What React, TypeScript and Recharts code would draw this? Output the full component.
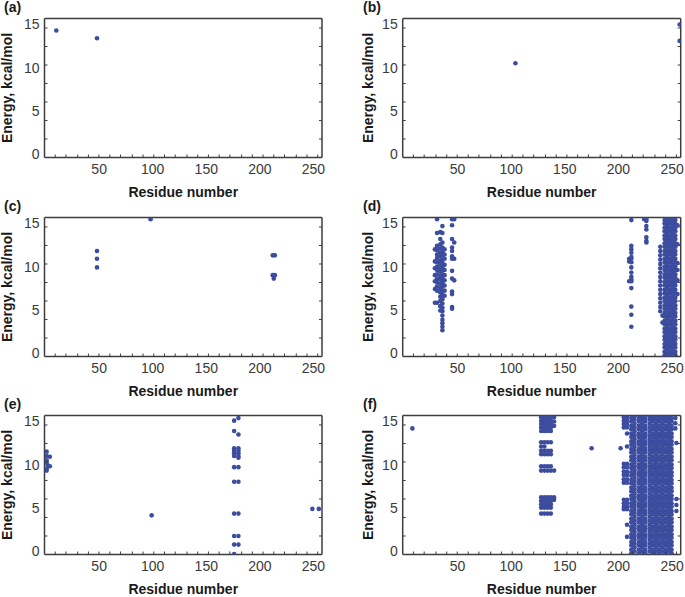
import { Scatter, ScatterChart, XAxis, YAxis } from 'recharts'

const X_DOMAIN: [number, number] = [-1, 258]
const Y_DOMAIN: [number, number] = [-0.45, 15.7]
const xLabelTicks = [50, 100, 150, 200, 250]
const yLabelTicks = [0, 5, 10, 15]
const xMinorTicks = [9, 19, 30, 40, 49.8, 60, 70, 81, 91, 101, 111, 121, 132, 142, 152, 162, 172, 183, 193, 203, 213, 223, 234, 244, 254]
const yMinorTicks = [1.7, 3.85, 6.0, 8.15, 10.3, 12.45, 14.6]

const DOT = '#3c4c9e'
const FRAME = '#3d3d3d'
const TICK_TEXT = '#3a3a3a'

// (a)
const aResidues = [10, 48]
const aEnergies = [14.3, 13.4]

// (b)
const bResidues = [104, 257, 257]
const bEnergies = [10.5, 15.0, 13.1]

// (c)
const cResidues = [48, 48, 48, 98, 212, 214, 212, 214, 213]
const cEnergies = [11.8, 10.9, 9.9, 15.5, 11.3, 11.3, 9.0, 9.0, 8.6]

// (e)
const eResidues = [1, 1, 4, 1, 1, 2, 4, 1, 1, 99, 176, 176, 176, 176, 176, 176, 176, 176, 176, 176, 176, 176, 180, 180, 180, 180, 180, 180, 180, 180, 180, 180, 180, 180, 249, 255]
const eEnergies = [11.5, 11.0, 10.9, 10.5, 10.2, 9.9, 9.8, 9.5, 9.3, 4.1, 15.1, 13.9, 11.9, 11.6, 11.3, 11.0, 9.7, 8.0, 4.3, 1.7, 0.7, -0.4, 15.4, 13.5, 11.9, 11.6, 11.3, 11.0, 10.8, 9.7, 8.0, 4.3, 1.7, 0.7, 4.85, 4.85]

// energies of the solid, fully packed residue columns in (d) and (f);
// neighbouring columns alternate between the two sets
const solidEnergiesA = [-0.3, 0.1, 0.6, 1.0, 1.5, 1.9, 2.4, 2.8, 3.3, 3.7, 4.2, 4.6, 5.1, 5.5, 6.0, 6.4, 6.9, 7.3, 7.8, 8.2, 8.7, 9.1, 9.6, 10.0, 10.5, 10.9, 11.4, 11.8, 12.3, 12.7, 13.2, 13.6, 14.1, 14.5, 15.0, 15.4]
const solidEnergiesB = [-0.1, 0.35, 0.8, 1.25, 1.7, 2.15, 2.6, 3.05, 3.5, 3.95, 4.4, 4.85, 5.3, 5.75, 6.2, 6.65, 7.1, 7.55, 8.0, 8.45, 8.9, 9.35, 9.8, 10.25, 10.7, 11.15, 11.6, 12.05, 12.5, 12.95, 13.4, 13.85, 14.3, 14.75, 15.2, 15.6]

// (d)
const dResidues = [29, 31, 34, 36, 38, 45, 47, 210, 212, 224, 226, 239, 241, 255]
const dEnergies = [
  [12.0, 10.6, 9.8, 9.0, 8.3, 7.4, 5.8],
  [15.5, 13.9, 12.4, 11.9, 11.4, 11.0, 10.5, 10.0, 9.6, 9.1, 8.6, 8.2, 7.7, 7.2, 5.8],
  [14.0, 13.2, 12.6, 12.1, 11.6, 11.2, 10.7, 10.3, 9.8, 9.4, 8.9, 8.5, 8.0, 7.5, 7.0, 6.5, 6.0, 5.4, 4.9],
  [14.7, 13.9, 12.8, 12.2, 11.7, 11.3, 10.8, 10.4, 9.9, 9.5, 9.0, 8.6, 8.1, 7.7, 7.2, 6.7, 6.2, 5.7, 5.2, 4.8, 4.3, 3.8, 3.4, 3.0, 2.6],
  [12.0, 11.4, 10.9, 10.2, 9.6, 9.0, 8.4, 7.8, 7.2, 6.6],
  [15.5, 14.8, 13.2, 12.2, 11.8, 11.2, 10.9, 9.5, 8.6, 7.1, 6.8, 5.3, 5.1],
  [15.5, 12.8, 10.9, 8.4],
  [10.9, 10.6, 8.3],
  [15.4, 12.4, 12.0, 11.6, 11.1, 10.9, 10.5, 9.9, 9.3, 8.8, 8.5, 8.3, 7.5, 5.35, 4.4, 3.0],
  [15.5],
  [15.5, 15.3, 14.7, 14.3, 13.4, 13.0, 12.8],
  [12.3, 11.8, 11.3, 10.8, 10.3, 9.8, 9.3, 8.8, 8.3, 7.8, 7.3, 6.8, 6.3, 5.8, 5.3, 4.8],
  [4.3, 3.5],
  [14.8, 12.6, 10.4, 9.6, 8.4, 6.8],
]
const dSolidResiduesA = [243, 248, 253]
const dSolidResiduesB = [245.5, 250.5]

// (f)
const fResidues = [8, 128, 131, 134, 137, 140, 175, 202, 205, 208, 253, 254]
const fEnergies = [
  [14.2],
  [15.5, 15.1, 14.7, 14.3, 13.9, 12.6, 12.1, 11.6, 11.2, 9.8, 9.3, 6.2, 5.8, 5.4, 5.0, 4.3],
  [15.5, 15.1, 14.7, 14.3, 13.9, 12.6, 12.1, 11.6, 11.2, 9.8, 9.3, 6.2, 5.8, 5.4, 5.0, 4.3],
  [15.5, 15.1, 14.7, 14.3, 13.9, 12.6, 11.6, 11.2, 9.8, 9.3, 6.2, 5.8, 5.4, 5.0, 4.3],
  [15.5, 15.1, 14.7, 14.3, 13.9, 12.6, 11.6, 11.2, 9.8, 9.3, 6.2, 5.8, 5.4, 5.0, 4.3],
  [15.5, 15.0, 14.5, 9.3, 6.2, 5.9],
  [11.9],
  [11.9],
  [15.5, 15.1, 14.7, 14.3, 10.1, 9.7, 9.2, 8.8, 8.3, 7.9, 5.9, 5.5, 5.1, 4.8],
  [15.5, 15.1, 14.7, 14.3, 13.6, 12.1, 10.1, 9.7, 9.2, 8.8, 8.3, 7.9, 5.9, 5.5, 5.1, 4.8, 3.0, 1.6],
  [15.4, 14.8, 14.2],
  [12.5, 6.0, 5.3, 4.6],
]
const fSolidResiduesA = [212, 219, 225, 232, 238, 244, 249.5]
const fSolidResiduesB = [215, 222, 229, 235, 241, 247]

type Pt = { x: number; y: number }
const pairs = (xs: number[], ys: number[]): Pt[] => xs.map((x, i) => ({ x, y: ys[i] }))
const columns = (xs: number[], cols: number[][]): Pt[] =>
  xs.flatMap((x, i) => cols[i].map((y) => ({ x, y })))
const solid = (xs: number[], ys: number[]): Pt[] => xs.flatMap((x) => ys.map((y) => ({ x, y })))

const xAllTicks = [...xMinorTicks, ...xLabelTicks]
const yAllTicks = [...yMinorTicks, ...yLabelTicks]

const dot = (p: any) => <circle cx={p.cx} cy={p.cy} r={2.3} fill={DOT} />

// bottom axis: numbers for the labelled values, short inward marks for the rest
function BottomTick({ x, y, payload }: any) {
  if (xLabelTicks.includes(payload.value)) {
    return (
      <text x={x} y={y + 7} dy="0.71em" textAnchor="middle" fontSize={14} fill={TICK_TEXT}>
        {payload.value}
      </text>
    )
  }
  return <line x1={x} x2={x} y1={y} y2={y - 3} stroke={FRAME} strokeWidth={1} />
}

function LeftTick({ x, y, payload }: any) {
  if (yLabelTicks.includes(payload.value)) {
    return (
      <text x={x - 5} y={y} dy="0.355em" textAnchor="end" fontSize={14} fill={TICK_TEXT}>
        {payload.value}
      </text>
    )
  }
  return <line x1={x} x2={x + 3} y1={y} y2={y} stroke={FRAME} strokeWidth={1} />
}

const frameLine = { stroke: FRAME, strokeWidth: 1.5 }
const tickMark = { stroke: FRAME, strokeWidth: 1 }
const blank = () => ''

interface PanelProps {
  tag: string
  data: Pt[]
  top: number
  wide?: boolean
}

function Panel({ tag, data, top, wide }: PanelProps) {
  const left = wide ? 340 : 0
  const width = wide ? 345 : 340
  const yWidth = wide ? 62.7 : 44.5
  const right = wide ? 3.3 : 17
  const titleX = wide ? 28.3 : 7
  return (
    <div style={{ position: 'absolute', left, top, width, height: 199 }}>
      <div
        style={{
          position: 'absolute',
          left: wide ? 23 : 4,
          top: 0,
          fontSize: 14,
          fontWeight: 'bold',
          lineHeight: '15px',
          color: '#1a1a1a',
        }}
      >
        {tag}
      </div>
      <ScatterChart width={width} height={199} margin={{ top: 17.5, right, bottom: 0, left: 0 }}>
        <XAxis
          type="number"
          dataKey="x"
          domain={X_DOMAIN}
          allowDataOverflow
          ticks={xAllTicks}
          interval={0}
          height={41.5}
          tickSize={0}
          tickMargin={0}
          axisLine={frameLine}
          tickLine={false}
          tick={<BottomTick />}
          label={{
            value: 'Residue number',
            position: 'insideBottom',
            offset: 2,
            style: { fontSize: 14, fontWeight: 'bold', fill: '#1a1a1a' },
          }}
        />
        <XAxis
          xAxisId="top"
          orientation="top"
          type="number"
          domain={X_DOMAIN}
          allowDataOverflow
          ticks={xMinorTicks}
          interval={0}
          height={1}
          tickSize={-3}
          tickMargin={0}
          tickFormatter={blank}
          axisLine={frameLine}
          tickLine={tickMark}
        />
        <YAxis
          type="number"
          dataKey="y"
          domain={Y_DOMAIN}
          allowDataOverflow
          ticks={yAllTicks}
          interval={0}
          width={yWidth}
          tickSize={0}
          tickMargin={0}
          axisLine={frameLine}
          tickLine={false}
          tick={<LeftTick />}
          label={{
            value: 'Energy, kcal/mol',
            angle: -90,
            position: 'insideLeft',
            offset: titleX,
            style: { fontSize: 14, fontWeight: 'bold', fill: '#1a1a1a', textAnchor: 'middle' },
          }}
        />
        <YAxis
          yAxisId="right"
          orientation="right"
          type="number"
          domain={Y_DOMAIN}
          allowDataOverflow
          ticks={yMinorTicks}
          interval={0}
          width={1}
          tickSize={-3}
          tickMargin={0}
          tickFormatter={blank}
          axisLine={frameLine}
          tickLine={tickMark}
        />
        <Scatter data={data} shape={dot} isAnimationActive={false} />
      </ScatterChart>
    </div>
  )
}

export default function App() {
  const dData = [
    ...columns(dResidues, dEnergies),
    ...solid(dSolidResiduesA, solidEnergiesA),
    ...solid(dSolidResiduesB, solidEnergiesB),
  ]
  const fData = [
    ...columns(fResidues, fEnergies),
    ...solid(fSolidResiduesA, solidEnergiesA),
    ...solid(fSolidResiduesB, solidEnergiesB),
  ]
  return (
    <div
      style={{
        position: 'absolute',
        left: 0,
        top: 0,
        width: 685,
        height: 597,
        background: '#fff',
        fontFamily: '"Liberation Sans", Arial, sans-serif',
      }}
    >
      <Panel tag="(a)" data={pairs(aResidues, aEnergies)} top={0} />
      <Panel tag="(b)" data={pairs(bResidues, bEnergies)} top={0} wide />
      <Panel tag="(c)" data={pairs(cResidues, cEnergies)} top={199.2} />
      <Panel tag="(d)" data={dData} top={199.2} wide />
      <Panel tag="(e)" data={pairs(eResidues, eEnergies)} top={397} />
      <Panel tag="(f)" data={fData} top={397} wide />
    </div>
  )
}
